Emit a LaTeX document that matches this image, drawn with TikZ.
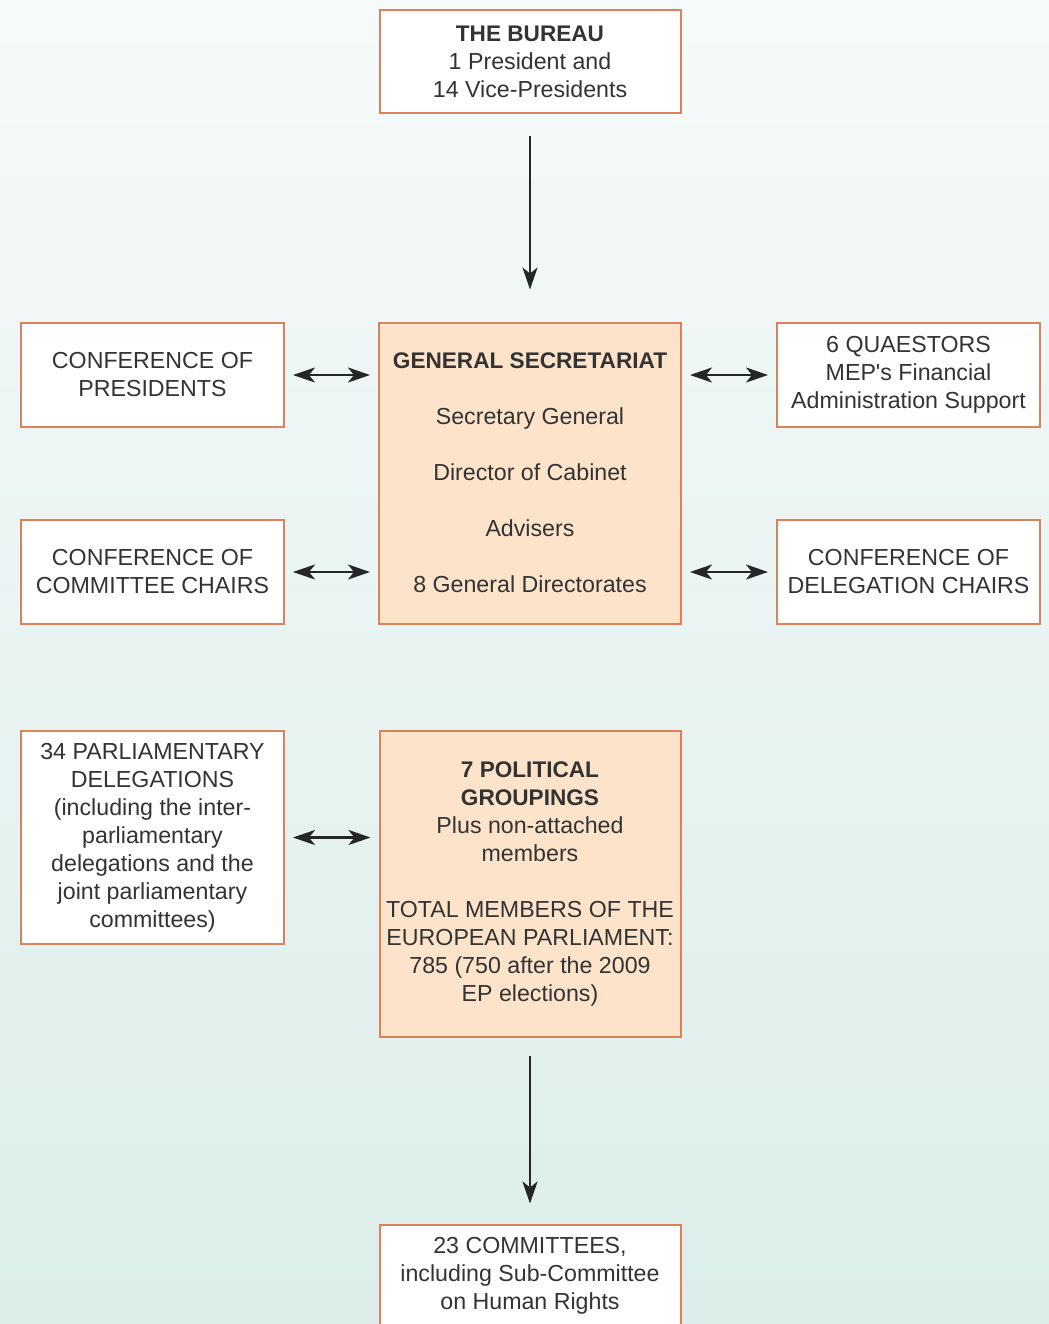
\documentclass[tikz,border=0pt]{standalone}
\usepackage{fontspec}
\setmainfont{Liberation Sans}
\usetikzlibrary{arrows.meta}
\definecolor{edge}{HTML}{D9825B}
\definecolor{peach}{HTML}{FCE3CA}
\definecolor{ink}{HTML}{333333}
\definecolor{bgtop}{HTML}{F6FAFA}
\definecolor{bgbot}{HTML}{DCEEEA}
\newcommand{\bhead}[1]{{\fontsize{11.3}{14}\selectfont\bfseries #1}}
\begin{document}
\begin{tikzpicture}[x=0.5pt,y=0.5pt,
     block/.style = {draw=edge, line width=1pt, rectangle, fill=white, text=ink, align=center,
      inner sep=2pt, font=\fontsize{11.6}{14}\selectfont},
     side/.style = {block, minimum width=131.5pt, minimum height=52pt},
     mid/.style = {block, minimum width=150.5pt, minimum height=51.5pt},
     arrow/.style = {draw=black!85, line width=1.3pt, -{Stealth[length=11pt,width=7.5pt,inset=3pt]}},
     biarrow/.style = {arrow, {Stealth[length=11pt,width=7.5pt,inset=3pt]}-{Stealth[length=11pt,width=7.5pt,inset=3pt]},
      shorten <=4pt, shorten >=4pt}
    ]

    \shade[use as bounding box, top color=bgtop, bottom color=bgbot] (0,0) rectangle (1049,-1324);

    \node [block, fill=peach, minimum width=151pt, minimum height=150.5pt] (gensec) at (530,-473)
      {\bhead{GENERAL SECRETARIAT}\\[14pt] Secretary General\\[14pt] Director of Cabinet\\[14pt] Advisers\\[14pt] 8 General Directorates};
    \node [mid, above of=gensec, node distance=205.75pt] (bureau)
      {\bhead{THE BUREAU}\\ 1 President and\\ 14 Vice-Presidents};
    \node [block, fill=peach, minimum width=150.5pt, minimum height=153pt, below of=gensec, node distance=205.5pt] (groups)
      {\bhead{7 POLITICAL}\\ \bhead{GROUPINGS}\\ Plus non-attached\\ members\\[14pt] TOTAL MEMBERS OF THE\\ EUROPEAN PARLIAMENT:\\ 785 (750 after the 2009\\ EP elections)};
    \node [mid, below of=groups, node distance=196pt] (cttees)
      {23 COMMITTEES,\\ including Sub-Committee\\ on Human Rights};

    \node [side] (pres) at (152.5,-375) {CONFERENCE OF\\ PRESIDENTS};
    \node [side, below of=pres, node distance=98.5pt] (cchairs) {CONFERENCE OF\\ COMMITTEE CHAIRS};
    \node [side] (quaest) at (908.5,-375) {6 QUAESTORS\\ MEP\textquotesingle s Financial\\ Administration Support};
    \node [side, below of=quaest, node distance=98.5pt] (dchairs) {CONFERENCE OF\\ DELEGATION CHAIRS};
    \node [side, minimum height=106.5pt] (deleg) at (152.5,-837.5)
      {34 PARLIAMENTARY\\ DELEGATIONS\\ (including the inter-\\ parliamentary\\ delegations and the\\ joint parliamentary\\ committees)};

    \draw[arrow, shorten <=11pt, shorten >=16pt] (bureau) -- (gensec);
    \draw[arrow, shorten <=9pt, shorten >=10pt] (groups) -- (cttees);
    \draw[biarrow] (pres.east) -- (pres.east -| gensec.west);
    \draw[biarrow] (cchairs.east) -- (cchairs.east -| gensec.west);
    \draw[biarrow] (deleg.east) -- (deleg.east -| groups.west);
    \draw[biarrow] (gensec.east |- quaest.west) -- (quaest.west);
    \draw[biarrow] (gensec.east |- dchairs.west) -- (dchairs.west);

\end{tikzpicture}
\end{document}
